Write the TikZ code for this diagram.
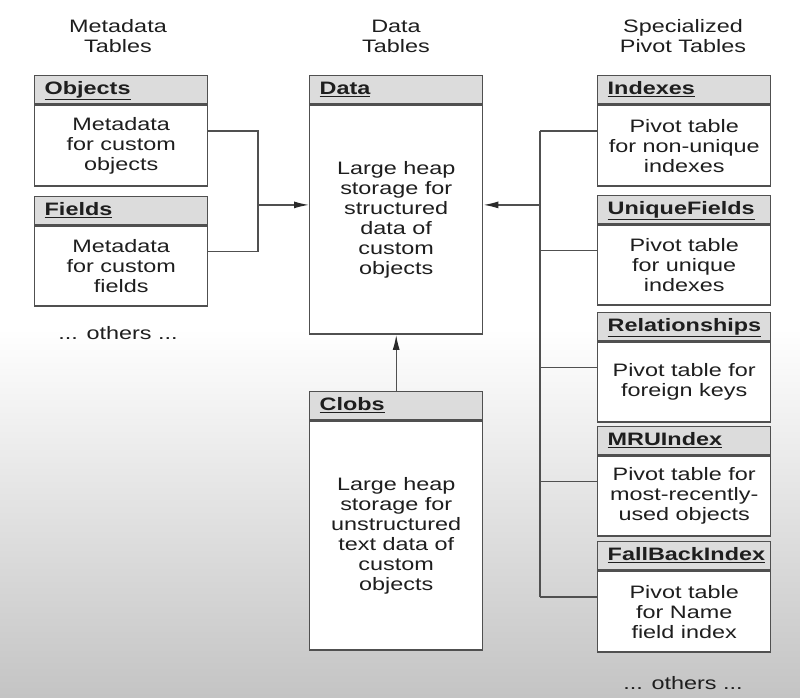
\documentclass[tikz,border=0pt]{standalone}
\usepackage{fontspec}
\setmainfont{Liberation Sans}[FakeStretch=1.3]
\usetikzlibrary{arrows.meta,calc}
\definecolor{linegray}{HTML}{505050}
\definecolor{tipgray}{HTML}{2A2A2A}
\definecolor{headgray}{HTML}{DCDCDC}
\definecolor{inkgray}{HTML}{1E1E1E}
\definecolor{bggray}{HTML}{C4C4C4}
\newcommand\tblfont{\fontsize{18pt}{20pt}\selectfont}

\begin{document}
\begin{tikzpicture}[x=1pt,y=-1pt,
  every node/.style={font=\tblfont,text=inkgray},
  title/.style={align=center},
  tblhead/.style={draw=linegray,line width=1.4pt,fill=headgray,anchor=north west,
    minimum height=28pt,text width=153pt,inner xsep=10pt,inner ysep=0pt,
    text height=13pt,text depth=4pt,font=\tblfont\bfseries},
  tblbody/.style={draw=linegray,line width=1.4pt,fill=white,anchor=north,
    minimum width=173pt,inner sep=0pt,align=center},
  conn/.style={draw=linegray,line width=1.4pt},
  arr/.style={conn,-{Latex[length=15pt,width=7pt,color=tipgray]}}]
  \useasboundingbox (0,0) rectangle (800,697);
  \fill[white] (0,0) rectangle (800,329);
  \shade[top color=white,bottom color=bggray] (0,328) rectangle (800,697);

  % metadata tables
  \node[title] (tMeta) at (118,36) {Metadata\\Tables};
  \node[tblhead] (objH) at (34,75) {\underline{Objects}};
  \node[tblbody,minimum height=81pt] (obj) at (objH.south) {Metadata\\for custom\\objects};
  \node[tblhead] (fldH) at (34,196) {\underline{Fields}};
  \node[tblbody,minimum height=80pt] (fld) at (fldH.south) {Metadata\\for custom\\fields};
  \node (othL) at (118,333) {... others ...};

  % data tables
  \node[title] (tData) at (396,36) {Data\\Tables};
  \node[tblhead] (dataH) at (309,75) {\underline{Data}};
  \node[tblbody,minimum height=229pt] (data) at (dataH.south) {Large heap\\storage for\\structured\\data of\\custom\\objects};
  \node[tblhead] (clobH) at (309,391) {\underline{Clobs}};
  \node[tblbody,minimum height=229pt] (clob) at (clobH.south) {Large heap\\storage for\\unstructured\\text data of\\custom\\objects};

  % pivot tables
  \node[title] (tPivot) at (683,36) {Specialized\\Pivot Tables};
  \node[tblhead] (idxH) at (597,75) {\underline{Indexes}};
  \node[tblbody,minimum height=81pt] (idx) at (idxH.south) {Pivot table\\for non-unique\\indexes};
  \node[tblhead] (uniqH) at (597,195) {\underline{UniqueFields}};
  \node[tblbody,minimum height=80pt] (uniq) at (uniqH.south) {Pivot table\\for unique\\indexes};
  \node[tblhead] (relH) at (597,312) {\underline{Relationships}};
  \node[tblbody,minimum height=80pt] (rel) at (relH.south) {Pivot table for\\foreign keys};
  \node[tblhead] (mruH) at (597,426) {\underline{MRUIndex}};
  \node[tblbody,minimum height=80pt] (mru) at (mruH.south) {Pivot table for\\most-recently-\\used objects};
  \node[tblhead] (fbH) at (597,541) {\underline{FallBackIndex}};
  \node[tblbody,minimum height=81pt] (fb) at (fbH.south) {Pivot table\\for Name\\field index};
  \node (othR) at (683,683) {... others ...};

  % table mid points
  \coordinate (obj-e) at ($(objH.north east)!.5!(obj.south east)$);
  \coordinate (fld-e) at ($(fldH.north east)!.5!(fld.south east)$);
  \coordinate (data-w) at ($(dataH.north west)!.5!(data.south west)$);
  \coordinate (data-e) at ($(dataH.north east)!.5!(data.south east)$);
  \foreach \t in {idx,uniq,rel,mru,fb}
    \coordinate (\t-w) at ($(\t H.north west)!.5!(\t.south west)$);
  \coordinate (jl) at (258,0);
  \coordinate (jr) at (540,0);

  % connectors
  \draw[conn] (obj-e) -| (jl |- data-w) |- (fld-e);
  \draw[arr] (jl |- data-w) -- (data-w);
  \draw[arr] (jr |- data-e) -- (data-e);
  \draw[conn] (jr |- idx-w) -- (jr |- fb-w);
  \foreach \t in {idx,uniq,rel,mru,fb}
    \draw[conn] (jr |- \t-w) -- (\t-w);
  \draw[arr] (clobH.north) -- (data.south);
\end{tikzpicture}
\end{document}
